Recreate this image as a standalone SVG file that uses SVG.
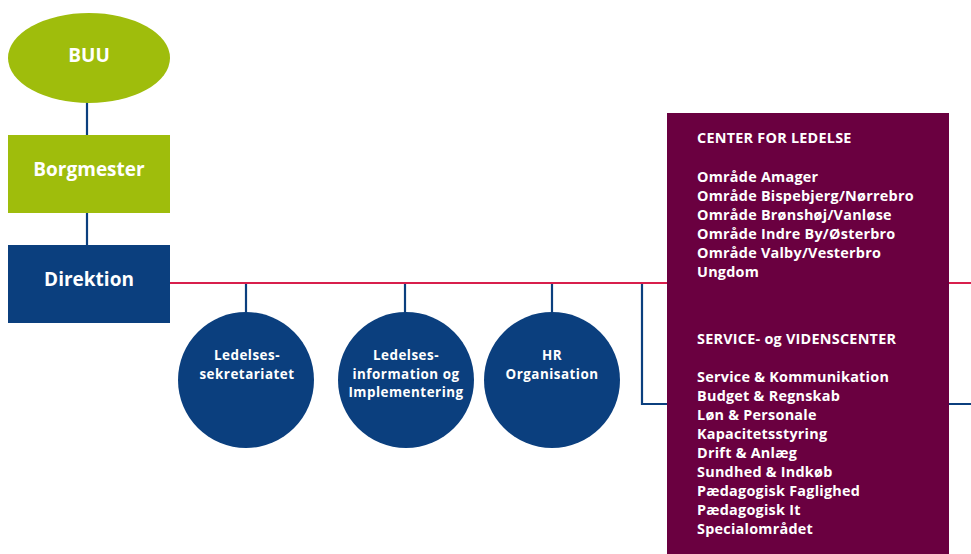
<svg xmlns="http://www.w3.org/2000/svg" width="971" height="554" viewBox="0 0 971 554">
  <style>
    .green { fill: #9fbd0c; }
    .blue { fill: #0b3f7e; }
    .purple { fill: #6a0040; }
    .lbl { font-family: "Open Sans", Lato, "Liberation Sans", sans-serif; font-weight: bold; fill: #ffffff; }
    .big { font-size: 19px; text-anchor: middle; }
    .small { font-size: 13.4px; letter-spacing: 0.5px; text-anchor: middle; }
    .list { font-size: 14.4px; letter-spacing: 0.25px; }
    .link-blue { stroke: #0b3f7e; stroke-width: 2.2; fill: none; }
    .link-red { stroke: #d81f4c; stroke-width: 2.2; fill: none; }
  </style>

  <rect width="971" height="554" fill="#ffffff"/>

  <!-- connectors -->
  <g id="connectors">
    <line class="link-blue" x1="87" y1="100" x2="87" y2="136"/>
    <line class="link-blue" x1="87" y1="212" x2="87" y2="246"/>
    <line class="link-blue" x1="246" y1="283" x2="246" y2="315"/>
    <line class="link-blue" x1="405" y1="283" x2="405" y2="315"/>
    <line class="link-blue" x1="552" y1="283" x2="552" y2="315"/>
    <path class="link-blue" d="M642,283 V404 H971"/>
    <line class="link-red" x1="170" y1="283" x2="971" y2="283"/>
  </g>

  <!-- top chain -->
  <g id="buu">
    <ellipse class="green" cx="89" cy="58" rx="81" ry="45"/>
    <text class="lbl big" x="89" y="62">BUU</text>
  </g>
  <g id="borgmester">
    <rect class="green" x="8" y="135" width="162" height="78"/>
    <text class="lbl big" x="89" y="176">Borgmester</text>
  </g>
  <g id="direktion">
    <rect class="blue" x="8" y="245" width="162" height="78"/>
    <text class="lbl big" x="89" y="286">Direktion</text>
  </g>

  <!-- staff units -->
  <g id="ledelsessekretariatet">
    <circle class="blue" cx="246" cy="380" r="68"/>
    <text class="lbl small" x="247" y="360">Ledelses-</text>
    <text class="lbl small" x="247" y="378.5">sekretariatet</text>
  </g>
  <g id="ledelsesinformation">
    <circle class="blue" cx="406" cy="380" r="68"/>
    <text class="lbl small" x="406" y="360">Ledelses-</text>
    <text class="lbl small" x="406" y="378.5">information og</text>
    <text class="lbl small" x="406" y="397">Implementering</text>
  </g>
  <g id="hr-organisation">
    <circle class="blue" cx="552" cy="380" r="68"/>
    <text class="lbl small" x="552" y="360">HR</text>
    <text class="lbl small" x="552" y="378.5">Organisation</text>
  </g>

  <!-- centres -->
  <g id="centre-box">
    <rect class="purple" x="667" y="113" width="282" height="441"/>
    <text class="lbl list" x="697" y="143">CENTER FOR LEDELSE</text>
    <text class="lbl list" x="697" y="182">Område Amager</text>
    <text class="lbl list" x="697" y="201">Område Bispebjerg/Nørrebro</text>
    <text class="lbl list" x="697" y="220">Område Brønshøj/Vanløse</text>
    <text class="lbl list" x="697" y="239">Område Indre By/Østerbro</text>
    <text class="lbl list" x="697" y="258">Område Valby/Vesterbro</text>
    <text class="lbl list" x="697" y="277">Ungdom</text>
    <text class="lbl list" x="697" y="344">SERVICE- og VIDENSCENTER</text>
    <text class="lbl list" x="697" y="382">Service &amp; Kommunikation</text>
    <text class="lbl list" x="697" y="401">Budget &amp; Regnskab</text>
    <text class="lbl list" x="697" y="420">Løn &amp; Personale</text>
    <text class="lbl list" x="697" y="439">Kapacitetsstyring</text>
    <text class="lbl list" x="697" y="458">Drift &amp; Anlæg</text>
    <text class="lbl list" x="697" y="477">Sundhed &amp; Indkøb</text>
    <text class="lbl list" x="697" y="496">Pædagogisk Faglighed</text>
    <text class="lbl list" x="697" y="515">Pædagogisk It</text>
    <text class="lbl list" x="697" y="534">Specialområdet</text>
  </g>
</svg>
